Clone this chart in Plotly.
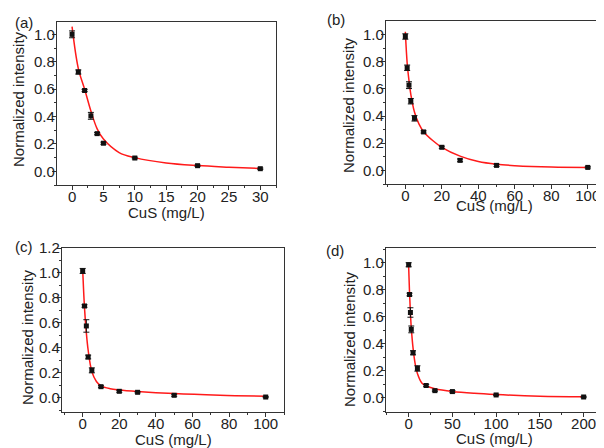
import plotly.graph_objects as go

# measured points
conc_a = [0, 1, 2, 3, 4, 5, 10, 20, 30]
int_a = [1.0, 0.725, 0.59, 0.405, 0.275, 0.205, 0.097, 0.041, 0.019]
err_a = [0.025, 0.015, 0.008, 0.025, 0.008, 0.008, 0.006, 0.005, 0.005]

conc_b = [0, 1, 2, 3, 5, 10, 20, 30, 50, 100]
int_b = [0.985, 0.755, 0.627, 0.509, 0.383, 0.283, 0.17, 0.074, 0.037, 0.022]
err_b = [0.02, 0.02, 0.025, 0.02, 0.02, 0.008, 0.008, 0.01, 0.008, 0.005]

conc_c = [0, 1, 2, 3, 5, 10, 20, 30, 50, 100]
int_c = [1.016, 0.735, 0.575, 0.326, 0.219, 0.088, 0.051, 0.043, 0.019, 0.005]
err_c = [0.02, 0.01, 0.05, 0.015, 0.02, 0.008, 0.008, 0.005, 0.008, 0.005]

conc_d = [0, 1, 2, 3, 5, 10, 20, 30, 50, 100, 200]
int_d = [0.985, 0.765, 0.632, 0.507, 0.334, 0.218, 0.092, 0.054, 0.047, 0.022, 0.007]
err_d = [0.015, 0.01, 0.035, 0.025, 0.015, 0.02, 0.008, 0.005, 0.008, 0.005, 0.005]

# fitted curves
fit_xa = [0, 1, 2, 3, 4, 5, 7.5, 10, 15, 20, 25, 30]
fit_ya = [1.056, 0.75, 0.60, 0.44, 0.31, 0.235, 0.137, 0.10, 0.061, 0.042, 0.03, 0.02]

fit_xb = [0, 1, 2, 3, 5, 7.5, 10, 15, 20, 30, 40, 50, 60, 80, 100]
fit_yb = [1.02, 0.79, 0.66, 0.56, 0.43, 0.34, 0.285, 0.22, 0.17, 0.105, 0.065, 0.045, 0.035, 0.025, 0.022]

fit_xc = [0, 1, 2, 3, 5, 7.5, 10, 15, 20, 30, 50, 75, 100]
fit_yc = [1.03, 0.72, 0.52, 0.38, 0.21, 0.13, 0.095, 0.072, 0.062, 0.05, 0.033, 0.02, 0.012]

fit_xd = [0, 1, 2, 3, 5, 7.5, 10, 15, 20, 30, 50, 75, 100, 150, 200]
fit_yd = [0.97, 0.78, 0.63, 0.52, 0.37, 0.25, 0.18, 0.11, 0.088, 0.068, 0.048, 0.034, 0.025, 0.013, 0.008]

panels = [
    ("(a)", conc_a, int_a, err_a, fit_xa, fit_ya),
    ("(b)", conc_b, int_b, err_b, fit_xb, fit_yb),
    ("(c)", conc_c, int_c, err_c, fit_xc, fit_yc),
    ("(d)", conc_d, int_d, err_d, fit_xd, fit_yd),
]

# the page puts an 8px body margin round the figure
OFF = 8
W, H = 604 - OFF, 448 - OFF
FONT = "Liberation Sans, Arial, sans-serif"
FS = 15
TXT = "#222222"
AX = "#333333"

# tick labels sit closer to the axis than plotly's default
try:
    go.layout.XAxis(ticklabelstandoff=-6)
    STANDOFF = -6
except ValueError:
    STANDOFF = 0

# frame boxes in reference pixels: left, right, top, bottom
boxes = [(57, 276, 22, 185), (386, 602, 21, 184), (62, 284, 248, 412), (386, 602, 248, 412)]
xranges = [[-2.4, 32.5], [-10.6, 107.8], [-11.3, 110], [-25.9, 221]]
yranges = [[-0.1, 1.09], [-0.1, 1.099], [-0.115, 1.2], [-0.104, 1.109]]
xdticks = [5, 20, 20, 50]
ydticks = [0.2, 0.2, 0.2, 0.2]
label_pos = [(24, 22), (336, 20), (24, 246), (335, 250)]
ytitle_pos = [(19, 99), (348, 105), (27, 337), (349, 339)]
xtitle_y = [213, 206, 439, 438]


def px(x):
    return (x - OFF) / W


def py(y):
    return 1 - (y - OFF) / H


def note(text, x, y, angle=0):
    fig.add_annotation(text=text, x=px(x), y=py(y), xref="paper", yref="paper",
                       xanchor="center", yanchor="middle", showarrow=False, textangle=angle,
                       font=dict(family=FONT, size=FS, color=TXT))


fig = go.Figure()
layout = {}
for i, (lab, xs, ys, es, fx, fy) in enumerate(panels):
    n = "" if i == 0 else str(i + 1)
    l, r, t, b = boxes[i]
    fig.add_trace(go.Scatter(
        x=fx, y=fy, mode="lines", line=dict(color="#ff1a1a", width=1.5, shape="spline"),
        xaxis="x" + n, yaxis="y" + n, showlegend=False, hoverinfo="skip"
    ))
    fig.add_trace(go.Scatter(
        x=xs, y=ys, mode="markers",
        marker=dict(symbol="square", size=5, color="#111111"),
        error_y=dict(type="data", array=es, color="#111111", thickness=1, width=3),
        xaxis="x" + n, yaxis="y" + n, showlegend=False
    ))
    common = dict(
        showline=True, linecolor=AX, linewidth=1.2, mirror=True, showgrid=False, zeroline=False,
        ticks="outside", ticklen=4, tickwidth=1, tickcolor=AX, automargin=False,
        tickfont=dict(family=FONT, size=FS, color=TXT),
    )
    if STANDOFF:
        common["ticklabelstandoff"] = STANDOFF
    layout["xaxis" + n] = dict(
        common, domain=[px(l), px(r)], range=xranges[i], anchor="y" + n,
        tick0=0, dtick=xdticks[i],
        minor=dict(ticks="outside", ticklen=2, tickcolor=AX, dtick=xdticks[i] / 2, tick0=0),
    )
    layout["yaxis" + n] = dict(
        common, domain=[py(b), py(t)], range=yranges[i], anchor="x" + n,
        tick0=0, dtick=ydticks[i], tickformat=".1f",
        minor=dict(ticks="outside", ticklen=2, tickcolor=AX, dtick=ydticks[i] / 2, tick0=0),
    )
    note(lab, *label_pos[i])
    note("Normalized intensity", *ytitle_pos[i], angle=-90)
    note("CuS (mg/L)", (l + r) / 2, xtitle_y[i])

fig.update_layout(
    width=W, height=H, margin=dict(l=0, r=0, t=0, b=0, autoexpand=False),
    paper_bgcolor="white", plot_bgcolor="white", **layout
)

fig.write_html("out.html")
